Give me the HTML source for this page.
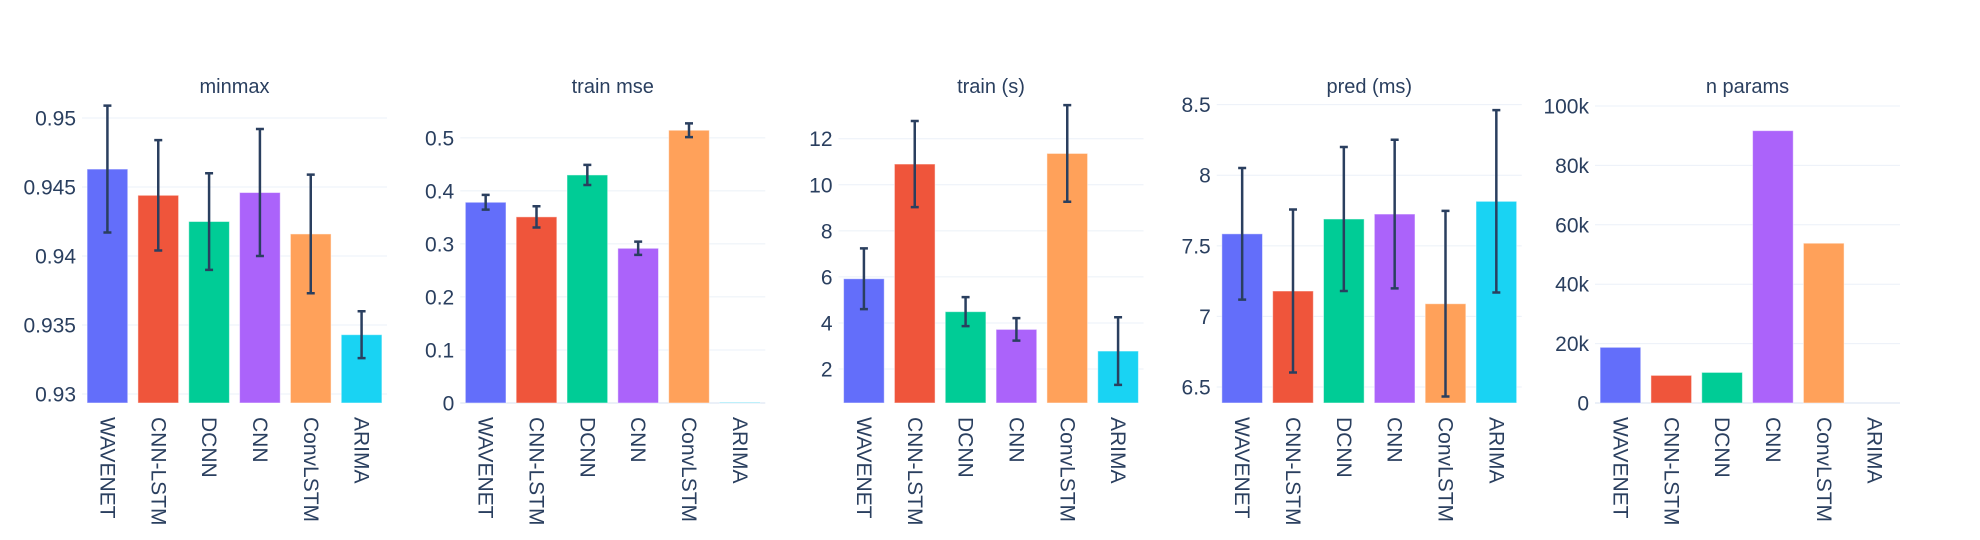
<!DOCTYPE html>
<html><head><meta charset="utf-8"><style>
html,body{margin:0;padding:0;background:#fff;}
svg{display:block;font-family:"Liberation Sans",sans-serif;}
</style></head><body>
<svg id="chart" width="1980" height="540" viewBox="0 0 1980 540" xmlns="http://www.w3.org/2000/svg"></svg>
<script>
const categories = ["WAVENET","CNN-LSTM","DCNN","CNN","ConvLSTM","ARIMA"];
const colors = ["#636efa","#ef553b","#00cc96","#ab63fa","#ffa15a","#19d3f3"];
const titles = ["minmax","train mse","train (s)","pred (ms)","n params"];
const minmaxValues = [0.9463,0.9444,0.9425,0.9446,0.9416,0.9343];
const minmaxErrors = [0.0046,0.0040,0.0035,0.0046,0.0043,0.0017];
const mseValues = [0.3785,0.351,0.430,0.2917,0.5143,0.001];
const mseErrors = [0.014,0.02,0.019,0.0125,0.013,0];
const trainValues = [5.92,10.9,4.49,3.72,11.36,2.78];
const trainErrors = [1.32,1.87,0.63,0.49,2.1,1.47];
const predValues = [7.585,7.18,7.69,7.725,7.09,7.815];
const predErrors = [0.466,0.577,0.51,0.526,0.657,0.646];
const paramValues = [18750,9300,10300,91700,53800,0];
const minmaxTicks = [0.93,0.935,0.94,0.945,0.95];
const mseTicks = [0,0.1,0.2,0.3,0.4,0.5];
const trainTicks = [2,4,6,8,10,12];
const predTicks = [6.5,7,7.5,8,8.5];
const paramTicks = [0,20000,40000,60000,80000,100000];
const paramTickLabels = ["0","20k","40k","60k","80k","100k"];

const panels = [
  {vals:minmaxValues, errs:minmaxErrors, ticks:minmaxTicks, labels:null, lo:0.92935, hi:0.95087, zero:false},
  {vals:mseValues, errs:mseErrors, ticks:mseTicks, labels:null, lo:0, hi:0.560, zero:true},
  {vals:trainValues, errs:trainErrors, ticks:trainTicks, labels:null, lo:0.524, hi:13.42, zero:false},
  {vals:predValues, errs:predErrors, ticks:predTicks, labels:null, lo:6.387, hi:8.49, zero:false},
  {vals:paramValues, errs:null, ticks:paramTicks, labels:paramTickLabels, lo:0, hi:100000, zero:true}
];
const NS="http://www.w3.org/2000/svg";
const svgEl=document.getElementById('chart');
function mk(tag,attrs,parent){const e=document.createElementNS(NS,tag);for(const k in attrs)e.setAttribute(k,attrs[k]);(parent||svgEl).appendChild(e);return e;}
const plotTop=106, plotBottom=403, plotW=305;
panels.forEach((p,pi)=>{
  const x0=82+pi*378.25;
  const g=mk('g',{});
  
  
  const y=v=>plotBottom-(v-p.lo)/(p.hi-p.lo)*(plotBottom-plotTop);
  const band=plotW/categories.length, bw=band*0.8;
  const t=mk('text',{x:x0+plotW/2,y:93,'text-anchor':'middle','font-size':20,fill:'#2a3f5f'},g);
  t.textContent=titles[pi];
  
  
  p.ticks.forEach((tv,ti)=>{
    const yy=y(tv);
    const gl=mk('line',{x1:x0,x2:x0+plotW,y1:yy,y2:yy,stroke:'#ebf0f8','stroke-width':(p.zero&&tv===0)?2:1},g);
    
    
    const tl=mk('text',{x:x0-6,y:yy+7.5,'text-anchor':'end','font-size':21,fill:'#2a3f5f'},g);
    tl.textContent=p.labels?p.labels[ti]:String(tv);
    
    
  });
  categories.forEach((c,ci)=>{
    const cx=x0+band*(ci+0.5);
    const v=p.vals[ci];
    const yv=y(v);
    const r=mk('rect',{x:cx-bw/2,y:yv,width:bw,height:Math.max(0,plotBottom-yv),fill:colors[ci],stroke:'rgba(255,255,255,0.5)','stroke-width':1},g);
    
    
    if(p.errs && p.errs[ci]>0){
      const e=p.errs[ci], y1=y(v+e), y2=y(v-e);
      const eb=mk('path',{d:`M${cx},${y1}V${y2}M${cx-4},${y1}H${cx+4}M${cx-4},${y2}H${cx+4}`,stroke:'#2a3f5f','stroke-width':2.5,fill:'none'},g);
      
      
    }
    const xl=mk('text',{transform:`translate(${cx-7},417) rotate(90)`,'font-size':21,fill:'#2a3f5f','text-anchor':'start'},g);
    xl.textContent=c;
    
    
  });
});
</script>
</body></html>
